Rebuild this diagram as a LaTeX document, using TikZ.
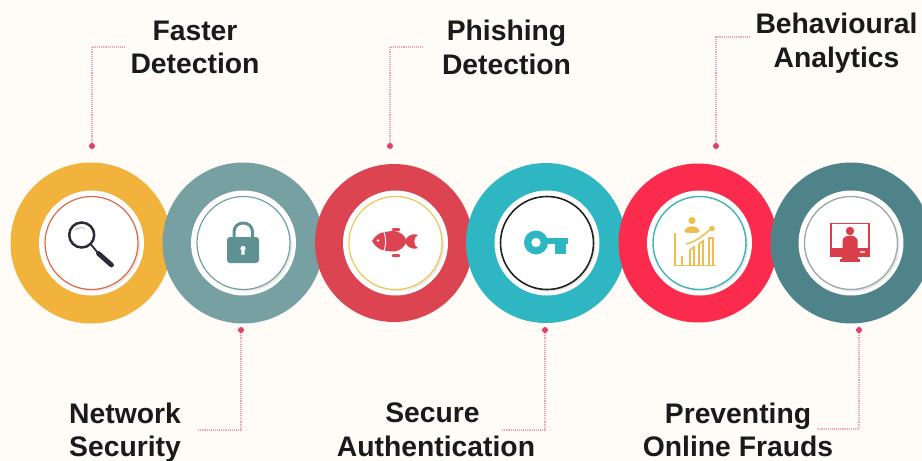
\documentclass[tikz,border=0pt]{standalone}
\usepackage{fontspec}
\setmainfont{Liberation Sans}
\definecolor{bgc}{HTML}{FFFCF8}
\definecolor{leadc}{HTML}{E0406E}
\definecolor{txtc}{HTML}{1A1A1A}
\definecolor{cyel}{HTML}{F2B33D}
\definecolor{cgry}{HTML}{77A0A2}
\definecolor{cred}{HTML}{DB4450}
\definecolor{ctur}{HTML}{2FB6C3}
\definecolor{cpnk}{HTML}{FB2B4D}
\definecolor{cdrk}{HTML}{4E8389}
\definecolor{shad}{HTML}{E8EAEA}
\definecolor{lockc}{HTML}{5F9092}
\definecolor{magc}{HTML}{2B2B3A}
\definecolor{chartc}{HTML}{EDBE4E}
\definecolor{monc}{HTML}{D93F48}
\definecolor{ringa}{HTML}{D9694A}
\definecolor{ringc}{HTML}{EFC65A}
\definecolor{ringd}{HTML}{222222}
\definecolor{ringe}{HTML}{3FB3B5}
\definecolor{ringf}{HTML}{A0ABAB}
\tikzset{
  x=1pt,y=-1pt,
  label text/.style={align=center,text=txtc,font=\fontsize{28.3}{33.5}\selectfont\bfseries,inner sep=0pt},
  leader/.style={draw=leadc!50!white,line width=1.1pt,densely dotted},
  leader dot/.style={circle,fill=leadc,draw=none,minimum size=6pt,inner sep=0pt},
}
\newcommand{\badge}[6]{% outer cx, white cx, r, outer colour, ring colour, ring width
  \fill[#4] (#1,243) circle (#3);
  \fill[white] (#2,243) circle (52.5);
  \fill[shad] (#2+2,245) circle (46.5);
  \fill[white] (#2,243) circle (46.5);
  \draw[#5,line width=#6] (#2,243) circle (46.5);
}
\begin{document}
\begin{tikzpicture}
\useasboundingbox (0,0) rectangle (922,461);
\fill[bgc] (0,0) rectangle (922,461);

% badges
\badge{91}{91.5}{80.5}{cyel}{ringa}{1.2pt}
\badge{243}{243.5}{80.5}{cgry}{cgry}{1.2pt}
\badge{394}{395.5}{79}{cred}{ringc}{1.2pt}
\badge{546}{547}{80}{ctur}{ringd}{1.6pt}
\badge{698}{699.5}{79.5}{cpnk}{ringe}{1.4pt}
\badge{851}{851}{80.5}{cdrk}{ringf}{1.4pt}

% magnifier
\draw[magc,line width=2.5pt] (81.7,235) circle (12.5);
\draw[magc,line width=1.8pt] (91,244.5) -- (98,253);
\draw[magc,line width=4.8pt,line cap=round] (98.5,253.5) -- (111.5,265);
\draw[gray!60,line width=.8pt] (75,230) .. controls (77,228) and (81,227) .. (84.5,228.5);

% lock
\draw[lockc,line width=3pt] (234,238) -- (234,232) .. controls (234,220) and (252.5,220) .. (252.5,232) -- (252.5,238);
\fill[lockc,rounded corners=3pt] (227,237) rectangle (259,263);
\fill[white] (243,248.5) circle (2.6);
\fill[white] (241.8,249) -- (244.2,249) -- (244.8,254.5) -- (241.2,254.5) -- cycle;

% fish
\fill[cred] (372,241) .. controls (375,236) and (379,233) .. (384,232) -- (392,231) .. controls (400,231) and (405,235) .. (406.5,241) .. controls (405,247) and (400,251.5) .. (392,251.5) -- (384,250.5) .. controls (379,249.5) and (375,246) .. (372,241) -- cycle;
\draw[white,line width=.9pt] (383,230) .. controls (386.5,237) and (386.5,245) .. (383,253);
\fill[white] (378,240.5) circle (1.3);
\fill[cred] (418,235) .. controls (410,232.5) and (405.5,238) .. (405.5,241.5) .. controls (405.5,245) and (410,250.5) .. (418,248) .. controls (413,246) and (413,237) .. (418,235) -- cycle;
\fill[cred,rounded corners=1pt] (392,228) rectangle (400,231);
\fill[cred,rounded corners=1pt] (392,254) rectangle (400,257);

% key
\fill[ctur,even odd rule] (536,242.5) circle (12) (536,242.5) circle (4.8);
\fill[ctur] (546,238) rectangle (568,244);
\fill[ctur] (555,244) rectangle (565.5,254);

% chart
\begin{scope}[chartc]
  \draw[line width=1.7pt] (675,233) -- (675,265.5) -- (716,265.5);
  \draw[line width=1.6pt] (682,265) -- (682,256);
  \draw[line width=1.6pt] (690,265) -- (690,250) -- (694,247) -- (694,265);
  \draw[line width=1.6pt] (699,265) -- (699,244) -- (703,241) -- (703,265);
  \draw[line width=1.6pt] (709,265) -- (709,238) -- (713,238) -- (713,265);
  \draw[line width=1.5pt] (686,244) .. controls (695,242) and (703,236) .. (710,229.5);
  \fill (712,228.5) circle (2.8);
  \fill (692,220.5) circle (3.6);
  \fill (684.5,232) .. controls (684.5,224.5) and (699.5,224.5) .. (699.5,232) .. controls (697,233.5) and (687,233.5) .. (684.5,232) -- cycle;
\end{scope}

% monitor
\draw[monc,line width=1.4pt] (831,223.5) rectangle (869,249);
\fill[monc] (830.3,248) rectangle (869.7,257);
\fill[monc] (842,257) rectangle (858,259);
\fill[monc] (840,259) rectangle (860,262);
\fill[monc] (850,231) circle (4.2);
\fill[monc] (842.5,248) -- (842.5,240) .. controls (844,236.5) and (847,235.5) .. (850,235.5) .. controls (853,235.5) and (856,236.5) .. (857.5,240) -- (857.5,248) -- cycle;
\fill[white!70!monc] (860,251) rectangle (865,253);

% labels
\node[label text] (t1) at (195,47.5) {Faster\\Detection};
\node[label text] (t2) at (506.5,47.5) {Phishing\\Detection};
\node[label text] (t3) at (836.5,43) {Behavioural\\Analytics};
\node[label text] (b1) at (125,432.5) {Network\\Security};
\node[label text] (b2) at (436,430) {Secure\hspace*{7pt}\\Authentication};
\node[label text] (b3) at (738,430) {Preventing\\Online Frauds};

% leaders
\node[leader dot] (d1) at (92,146) {};
\node[leader dot] (d2) at (390,146) {};
\node[leader dot] (d3) at (716,146) {};
\node[leader dot] (d4) at (241,330) {};
\node[leader dot] (d5) at (545,330) {};
\node[leader dot] (d6) at (859,330) {};
\coordinate (e1) at (125,47);
\coordinate (e2) at (424,47);
\coordinate (e3) at (750,37);
\coordinate (e4) at (198,430);
\coordinate (e5) at (502,430);
\coordinate (e6) at (817,429);
\draw[leader] (d1) |- (e1);
\draw[leader] (d2) |- (e2);
\draw[leader] (d3) |- (e3);
\draw[leader] (d4) |- (e4);
\draw[leader] (d5) |- (e5);
\draw[leader] (d6) |- (e6);
\end{tikzpicture}
\end{document}
